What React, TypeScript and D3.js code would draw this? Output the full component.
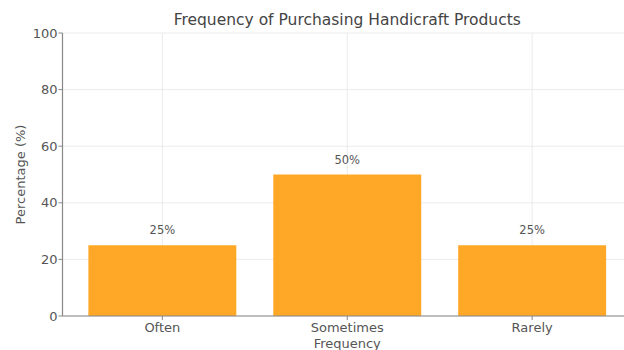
import React from "react";
import * as d3 from "d3";

const categories = ["Often", "Sometimes", "Rarely"];
const values = [25, 50, 25];
const yTicks = [0, 20, 40, 60, 80, 100];

const W = 624;
const H = 350;
const font = "DejaVu Sans, sans-serif";

export default function App() {
  const x = d3.scaleLinear().domain([-0.54, 2.54]).range([62.5, 632]);
  const y = d3.scaleLinear().domain([0, 100]).range([316, 33]);
  const barW = x(0.4) - x(-0.4);

  return (
    <svg width={W} height={H} style={{ position: "absolute", left: 0, top: 0 }}>
      <rect width={W} height={H} fill="#fff" />
      {yTicks.map((t) => (
        <line key={"gy" + t} x1={x(-0.54)} x2={W} y1={y(t)} y2={y(t)} stroke="#e6e6e6" strokeWidth={0.8} />
      ))}
      {categories.map((c, i) => (
        <line key={"gx" + c} x1={x(i)} x2={x(i)} y1={y(100)} y2={y(0)} stroke="#e6e6e6" strokeWidth={0.8} />
      ))}
      {categories.map((c, i) => (
        <rect key={"b" + c} x={x(i) - barW / 2} y={y(values[i])} width={barW} height={y(0) - y(values[i])} fill="#ffa726" />
      ))}
      {categories.map((c, i) => (
        <text key={"l" + c} x={x(i)} y={y(values[i]) - 15} dy="0.35em" textAnchor="middle" fontFamily={font} fontSize={11.5} fill="#555">
          {values[i] + "%"}
        </text>
      ))}
      <line x1={x(-0.54)} x2={x(-0.54)} y1={y(100)} y2={y(0)} stroke="#888" strokeWidth={1.2} />
      <line x1={x(-0.54)} x2={W} y1={y(0)} y2={y(0)} stroke="#888" strokeWidth={1.2} />
      {yTicks.map((t) => (
        <g key={"ty" + t}>
          <line x1={x(-0.54) - 4} x2={x(-0.54)} y1={y(t)} y2={y(t)} stroke="#888" />
          <text x={x(-0.54) - 5} y={y(t)} dy="0.35em" textAnchor="end" fontFamily={font} fontSize={13} fill="#555">
            {t}
          </text>
        </g>
      ))}
      {categories.map((c, i) => (
        <g key={"tx" + c}>
          <line x1={x(i)} x2={x(i)} y1={y(0)} y2={y(0) + 4} stroke="#888" />
          <text x={x(i)} y={y(0) + 11} dy="0.35em" textAnchor="middle" fontFamily={font} fontSize={13} fill="#555">
            {c}
          </text>
        </g>
      ))}
      <text x={x(1)} y={343} dy="0.35em" textAnchor="middle" fontFamily={font} fontSize={13} fill="#555">
        Frequency
      </text>
      <text transform={`translate(20,${(y(0) + y(100)) / 2}) rotate(-90)`} dy="0.35em" textAnchor="middle" fontFamily={font} fontSize={13} fill="#555">
        Percentage (%)
      </text>
      <text x={x(1)} y={20} dy="0.35em" textAnchor="middle" fontFamily={font} fontSize={15.5} fill="#444">
        Frequency of Purchasing Handicraft Products
      </text>
    </svg>
  );
}
